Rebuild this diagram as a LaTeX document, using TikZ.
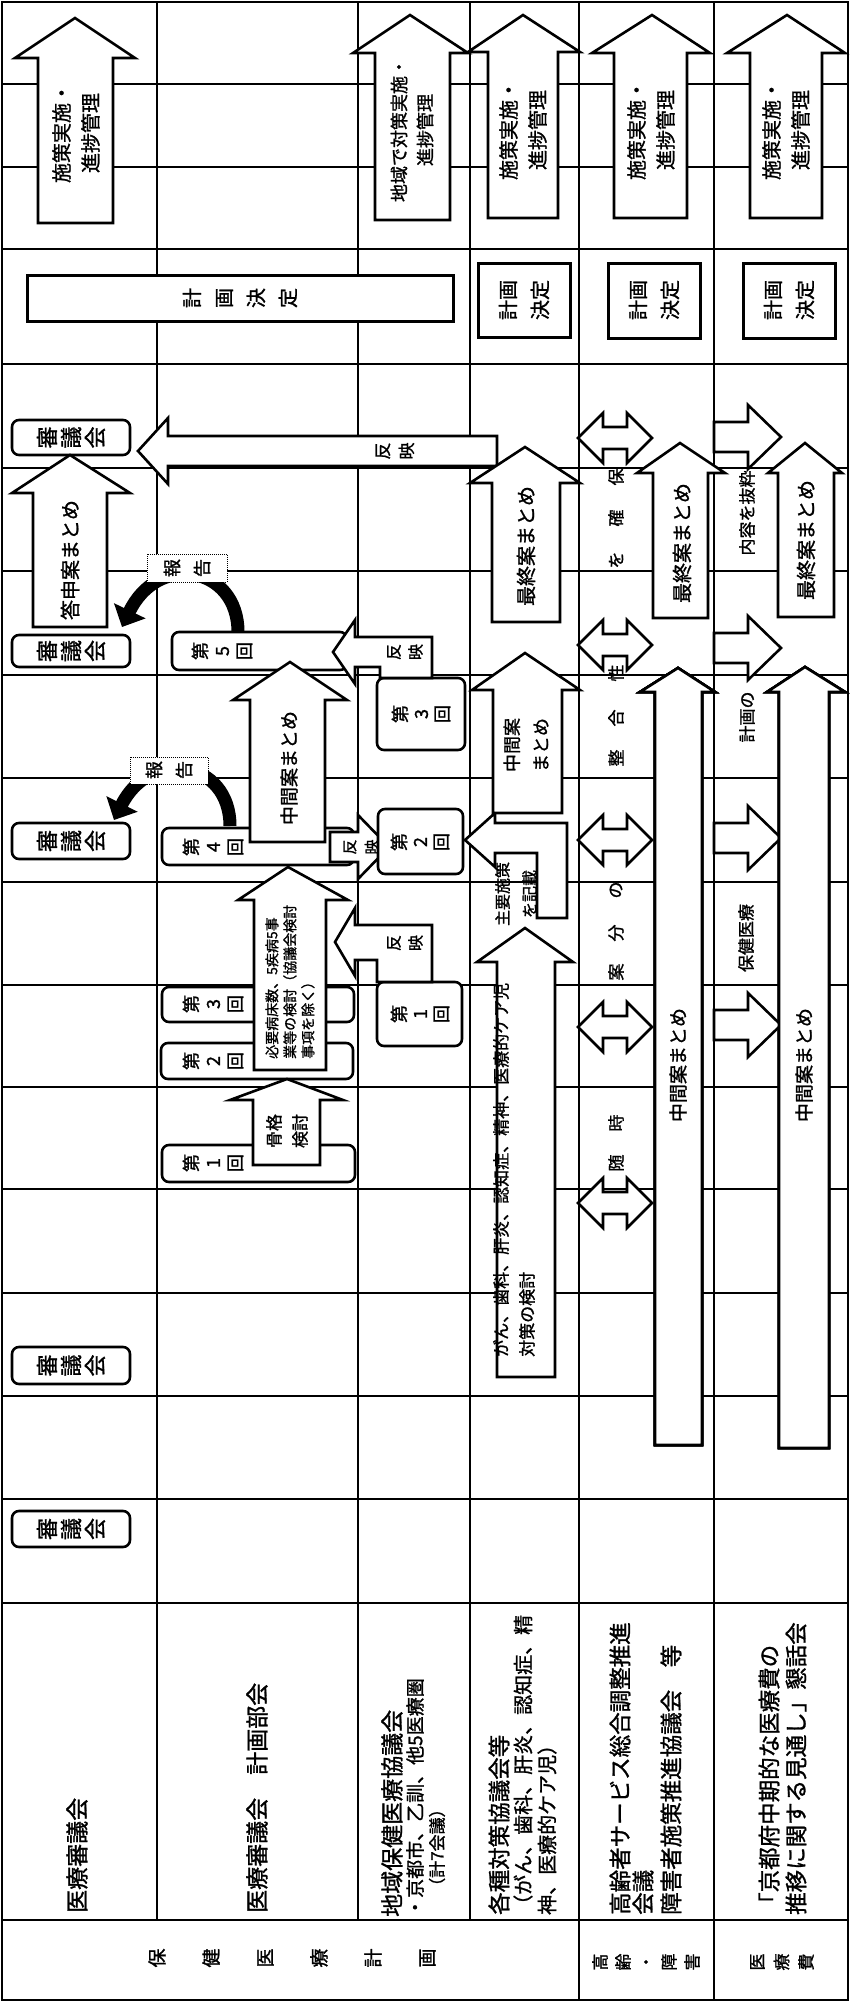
\documentclass[tikz,border=0pt]{standalone}
\usepackage{fontspec}
\setmainfont{Noto Sans CJK JP}[UprightFeatures={FakeBold=1.2}]
\usetikzlibrary{arrows.meta}
\newcommand\fsz[2]{\fontsize{#1pt}{#2pt}\selectfont}
% up arrow: tipx tipy headL headR headbase shaftL shaftR bottom
\newcommand\UpArw[8]{\draw[arw] (#1,#2) -- (#4,#5) -- (#7,#5) -- (#7,#8) -- (#6,#8) -- (#6,#5) -- (#3,#5) -- cycle;}
% double arrow (left-right) centred at y
\newcommand\DblArw[1]{\draw[arw] (578,#1) -- (603,#1-25) -- (603,#1-11) -- (627,#1-11) -- (627,#1-25) -- (652,#1) -- (627,#1+25) -- (627,#1+11) -- (603,#1+11) -- (603,#1+25) -- cycle;}
% right arrow centred at y
\newcommand\RgtArw[1]{\draw[arw] (714,#1-15) -- (748,#1-15) -- (748,#1-32) -- (781,#1) -- (748,#1+32) -- (748,#1+15) -- (714,#1+15) -- cycle;}
\begin{document}
\begin{tikzpicture}[x=1pt,y=-1pt,
  grid/.style={line width=1.3pt},
  gridthick/.style={line width=2.6pt},
  arw/.style={draw=black,fill=white,line width=2.6pt,line join=miter},
  rbox/.style={draw=black,fill=white,line width=2.6pt,rounded corners=7pt},
  sbox/.style={draw=black,fill=white,line width=3pt},
  txt/.style={inner sep=0pt,rotate=90,align=center},
  ltxt/.style={inner sep=0pt,rotate=90,align=left,anchor=west},
  lbl/.style={draw=black,fill=white,densely dotted,line width=1pt}]
\useasboundingbox (0,0) rectangle (850,2004);
\fill[white] (0,0) rectangle (850,2004);
% ---------------- grid ----------------
\foreach \x in {157,358,470} \draw[grid] (\x,2) -- (\x,1920);
\foreach \x in {579,714} \draw[grid] (\x,2) -- (\x,2000);
\foreach \y in {84,167,364,468,571,675,778,882,985,1087,1189,1293,1396,1499} \draw[grid] (2,\y) -- (848,\y);
\foreach \y in {249,1603,1920} \draw[gridthick] (2,\y) -- (848,\y);
\draw[gridthick] (2,2) rectangle (848,2000);
% ---------------- implementation arrows ----------------
\UpArw{75}{18}{15}{135}{58}{38}{113}{223}
\UpArw{410}{15}{353}{468}{53}{375}{450}{220}
\UpArw{523}{15}{468}{580}{52}{488}{558}{218}
\UpArw{652}{15}{592}{710}{53}{614}{687}{218}
\UpArw{787}{15}{727}{845}{53}{750}{822}{218}
\node[txt,font=\fsz{20}{29}] (imp1) at (76,133) {施策実施・\\進捗管理};
\node[txt,font=\fsz{18}{26}] (imp3) at (412,130) {地域で対策実施・\\進捗管理};
\node[txt,font=\fsz{20}{29}] (imp4) at (523,130) {施策実施・\\進捗管理};
\node[txt,font=\fsz{20}{29}] (imp5) at (651,130) {施策実施・\\進捗管理};
\node[txt,font=\fsz{20}{29}] (imp6) at (786,130) {施策実施・\\進捗管理};
% ---------------- plan decision ----------------
\draw[sbox] (27,275) rectangle (453,321);
\node[txt,font=\fsz{20}{32}] (kk1) at (240,298) {計\\画\\決\\定};
\draw[sbox] (478,263) rectangle (570,337);
\node[txt,font=\fsz{20}{32}] (kk4) at (524,300) {計画\\決定};
\draw[sbox] (608,263) rectangle (700,338);
\node[txt,font=\fsz{20}{32}] (kk5) at (654,300) {計画\\決定};
\draw[sbox] (743,263) rectangle (835,338);
\node[txt,font=\fsz{20}{32}] (kk6) at (789,300) {計画\\決定};
% ---------------- row 1 : council ----------------
\foreach \a/\b [count=\i] in {420/455,635/667,823/859,1347/1384,1511/1547}
  {\draw[rbox] (12,\a) rectangle (130,\b);
   \node[txt,font=\fsz{22}{24}] (sg\i) at (71,{(\a+\b)/2}) {審\\議\\会};}
% big reflect arrow (left)
\draw[arw] (138,451) -- (168,418) -- (168,436) -- (497,436) -- (497,466) -- (168,466) -- (168,484) -- cycle;
\node[txt,font=\fsz{17}{24}] (hn0) at (395,451) {反\\映};
% answer arrow
\UpArw{70}{455}{12}{130}{493}{33}{107}{627}
\node[txt,font=\fsz{20}{20}] (tsm) at (70,560) {答申案まとめ};
% report arrows
\draw[line width=13pt,-{Triangle[length=18pt,width=34pt]}] (238,632) .. controls (238,566) and (158,552) .. (122,627);
\draw[lbl] (147,554) rectangle (227,582);
\node[txt,font=\fsz{18}{30}] (hk1) at (187,568) {報\\告};
\draw[line width=13pt,-{Triangle[length=18pt,width=34pt]}] (230,826) .. controls (230,760) and (150,748) .. (114,820);
\draw[lbl] (130,757) rectangle (208,784);
\node[txt,font=\fsz{18}{30}] (hk2) at (169,770) {報\\告};
% ---------------- row 2 : planning subcommittee ----------------
\draw[rbox] (172,632) rectangle (347,670);
\draw[rbox] (162,828) rectangle (354,865);
\draw[rbox] (162,987) rectangle (354,1022);
\draw[rbox] (161,1043) rectangle (353,1079);
\draw[rbox] (162,1145) rectangle (355,1182);
\node[txt,font=\fsz{18}{22}] (b5) at (222,651) {第\\5\\回};
\node[txt,font=\fsz{18}{22}] (b4) at (213,847) {第\\4\\回};
\node[txt,font=\fsz{18}{22}] (b3) at (213,1004) {第\\3\\回};
\node[txt,font=\fsz{18}{22}] (b2) at (213,1061) {第\\2\\回};
\node[txt,font=\fsz{18}{22}] (b1) at (213,1163) {第\\1\\回};
\UpArw{290}{662}{233}{347}{700}{250}{325}{842}
\node[txt,font=\fsz{19}{19}] (cm2) at (289,768) {中間案まとめ};
\UpArw{288}{867}{238}{348}{900}{254}{326}{1070}
\node[ltxt,font=\fsz{14}{18}] (hy) at (290,1059) {必要病床数、5疾病5事\\業等の検討（協議会検討\\事項を除く）};
\UpArw{287}{1079}{230}{343}{1100}{253}{320}{1165}
\node[txt,font=\fsz{17}{26}] (kk) at (287,1131) {骨格\\検討};
\draw[arw] (330,832) -- (358,832) -- (358,815) -- (389,847) -- (358,879) -- (358,862) -- (330,862) -- cycle;
\node[txt,font=\fsz{15}{22}] (hn1) at (361,847) {反\\映};
% ---------------- row 3 : regional councils ----------------
\draw[rbox] (377,678) rectangle (465,750);
\draw[rbox] (378,809) rectangle (463,874);
\draw[rbox] (377,982) rectangle (462,1046);
\node[txt,font=\fsz{18}{21}] (r3) at (421,714) {第\\3\\回};
\node[txt,font=\fsz{18}{21}] (r2) at (420,842) {第\\2\\回};
\node[txt,font=\fsz{18}{21}] (r1) at (420,1014) {第\\1\\回};
\draw[arw] (333,652) -- (355,620) -- (355,637) -- (432,637) -- (432,678) -- (380,678) -- (380,667) -- (355,667) -- (355,684) -- cycle;
\node[txt,font=\fsz{16}{22}] (hn2) at (405,652) {反\\映};
\draw[arw] (335,942) -- (355,908) -- (355,925) -- (432,925) -- (432,982) -- (377,982) -- (377,960) -- (355,960) -- (355,976) -- cycle;
\node[txt,font=\fsz{16}{22}] (hn3) at (405,943) {反\\映};
% ---------------- row 4 : disease councils ----------------
\UpArw{525}{928}{477}{573}{962}{497}{555}{1377}
\node[ltxt,font=\fsz{17}{26}] (gan) at (514,1357) {がん、歯科、肝炎、認知症、精神、医療的ケア児\\対策の検討};
\draw[arw] (465,840) -- (495,813) -- (495,823) -- (567,823) -- (567,918) -- (537,918) -- (537,853) -- (495,853) -- (495,867) -- cycle;
\node[txt,font=\fsz{16}{27}] (sy) at (516,894) {主要施策\\を記載};
\UpArw{525}{653}{472}{580}{690}{493}{562}{813}
\node[txt,font=\fsz{18}{29}] (cm4) at (526,745) {中間案\\まとめ};
\UpArw{525}{447}{470}{580}{483}{492}{560}{622}
\node[txt,font=\fsz{20}{20}] (sm4) at (526,546) {最終案まとめ};
% ---------------- row 5 : elderly / disabled ----------------
\foreach \c in {438,645,840,1027,1203} \DblArw{\c}
\UpArw{678}{668}{640}{715}{692}{655}{702}{1445}
\node[txt,font=\fsz{19}{19}] (cm5) at (678,1065) {中間案まとめ};
\UpArw{680}{443}{637}{725}{473}{653}{708}{618}
\node[txt,font=\fsz{20}{20}] (sm5) at (682,543) {最終案まとめ};
\foreach \c/\y [count=\i] in {保/477,確/518,を/560,性/673,合/718,整/758,の/890,分/933,案/972,時/1123,随/1163}
  \node[txt,font=\fsz{17}{17}] (ka\i) at (616,\y) {\c};
% ---------------- row 6 : medical cost ----------------
\foreach \c in {437,648,838,1025} \RgtArw{\c}
\UpArw{805}{667}{767}{845}{692}{779}{829}{1448}
\node[txt,font=\fsz{19}{19}] (cm6) at (804,1065) {中間案まとめ};
\UpArw{805}{443}{768}{842}{473}{778}{834}{617}
\node[txt,font=\fsz{20}{20}] (sm6) at (806,540) {最終案まとめ};
\node[txt,font=\fsz{17}{17}] (ba1) at (747,513) {内容を抜粋};
\node[txt,font=\fsz{17}{17}] (ba2) at (747,717) {計画の};
\node[txt,font=\fsz{17}{17}] (ba3) at (746,938) {保健医療};
% ---------------- headers ----------------
\node[ltxt,font=\fsz{23}{23}] (h1) at (77,1913) {医療審議会};
\node[ltxt,font=\fsz{23}{23}] (h2) at (257,1913) {医療審議会　計画部会};
\node[ltxt,font=\fsz{23}{23}] (h3a) at (392,1917) {地域保健医療協議会};
\node[ltxt,font=\fsz{19}{19}] (h3b) at (415,1917) {・京都市、乙訓、他5医療圏};
\node[ltxt,font=\fsz{17}{17}] (h3c) at (437,1895) {（計7会議）};
\node[ltxt,font=\fsz{22.5}{22.5}] (h4a) at (499,1915) {各種対策協議会等};
\node[ltxt,font=\fsz{20}{20}] (h4b) at (523,1915) {（がん、歯科、肝炎、認知症、精};
\node[ltxt,font=\fsz{20}{20}] (h4c) at (547,1915) {神、医療的ケア児）};
\node[ltxt,font=\fsz{22.5}{22.5}] (h5a) at (620,1915) {高齢者サービス総合調整推進};
\node[ltxt,font=\fsz{22.5}{22.5}] (h5b) at (643,1915) {会議};
\node[ltxt,font=\fsz{22.5}{22.5}] (h5c) at (671,1915) {障害者施策推進協議会　等};
\node[ltxt,font=\fsz{22.5}{22.5}] (h6a) at (769,1915) {「京都府中期的な医療費の};
\node[ltxt,font=\fsz{22.5}{22.5}] (h6b) at (796,1915) {推移に関する見通し」懇話会};
\node[txt,font=\fsz{19}{54}] (c1) at (292,1958) {保\\健\\医\\療\\計\\画};
\node[txt,font=\fsz{17}{23}] (c2) at (646,1962) {高\\齢\\・\\障\\害};
\node[txt,font=\fsz{17}{24.5}] (c3) at (782,1962) {医\\療\\費};
\end{tikzpicture}
\end{document}
